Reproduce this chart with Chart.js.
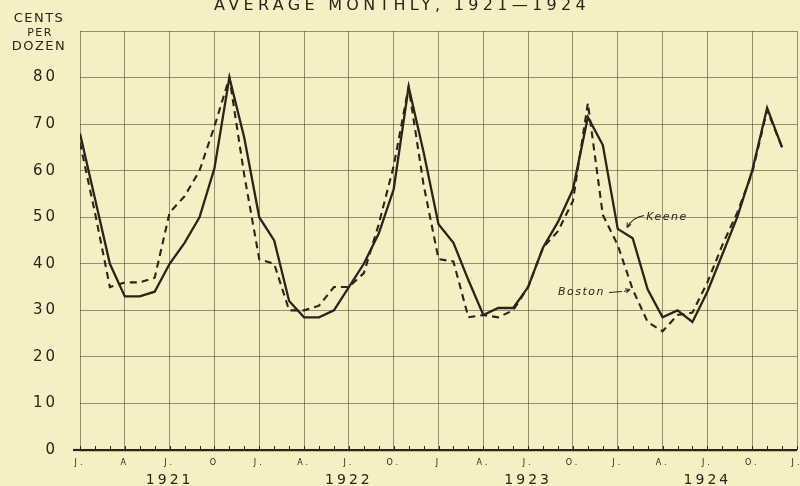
<!DOCTYPE html>
<html>
<head>
<meta charset="utf-8">
<script src="https://cdn.jsdelivr.net/npm/chart.js@4/dist/chart.umd.min.js"></script>
<style>
  html, body { margin: 0; padding: 0; background: #f7efc4; }
  #wrap { width: 800px; height: 486px; }
</style>
</head>
<body>
<div id="wrap"><canvas id="eggChart" width="800" height="486"></canvas></div>
<script>
// monthly average egg prices, cents per dozen, Jan 1921 - Dec 1924
const keene = [
  68, 54, 40, 33, 33, 34, 40, 44.5, 50, 60.5, 80, 67,
  50, 45, 32, 28.5, 28.5, 30, 35, 40, 46.5, 56, 78, 64,
  48.5, 44.5, 36.5, 29, 30.5, 30.5, 35, 43.5, 49, 56, 71.5, 65.5,
  47.5, 45.5, 34.5, 28.5, 30, 27.5, 34, 42, 50, 60, 73.5, 65
];
const boston = [
  66, 51, 35, 36, 36, 37, 51, 54.5, 60, 69.5, 80, 59,
  41, 40, 30, 30, 31, 35, 35, 38, 48.5, 61, 78, 57,
  41, 40.5, 28.5, 29, 28.5, 30, 35, 43.5, 47, 53.5, 74.5, 50.5,
  44, 34.5, 27.5, 25.5, 29, 29.5, 36, 44, 51, 59.5, 73, 65
];
const monthTicks = ['J.', 'A', 'J.', 'O', 'J.', 'A.', 'J.', 'O.', 'J', 'A.', 'J.', 'O.', 'J.', 'A.', 'J.', 'O.', 'J.'];
const years = ['1921', '1922', '1923', '1924'];

const ink = '#2a2419';
const gridInk = 'rgba(85, 75, 55, 0.6)';
const paper = '#f7efc4';
const face = '"DejaVu Sans", sans-serif';

function toPoints(values) {
  return values.map((v, i) => ({ x: i, y: v }));
}

function arrowHead(ctx, x, y, angle, size) {
  ctx.beginPath();
  ctx.moveTo(x, y);
  ctx.lineTo(x - size * Math.cos(angle - 0.45), y - size * Math.sin(angle - 0.45));
  ctx.moveTo(x, y);
  ctx.lineTo(x - size * Math.cos(angle + 0.45), y - size * Math.sin(angle + 0.45));
  ctx.stroke();
}

// background, letter spacing, month ticks, title and labels
const decor = {
  id: 'decor',
  beforeDraw(chart) {
    const ctx = chart.ctx;
    ctx.save();
    ctx.fillStyle = paper;
    ctx.fillRect(0, 0, chart.width, chart.height);
    ctx.restore();
    ctx.letterSpacing = '3px';
  },
  afterDatasetsDraw(chart) {
    const ctx = chart.ctx;
    const xs = chart.scales.x;
    const ys = chart.scales.y;
    const base = ys.getPixelForValue(0);
    ctx.save();
    ctx.strokeStyle = ink;
    ctx.lineWidth = 1;
    for (let m = 0; m <= 48; m++) {
      const px = Math.round(xs.getPixelForValue(m)) + 0.5;
      ctx.beginPath();
      ctx.moveTo(px, base);
      ctx.lineTo(px, base - 4);
      ctx.stroke();
    }
    // baseline runs a little past the left edge
    ctx.lineWidth = 2.2;
    ctx.beginPath();
    ctx.moveTo(xs.left - 7, base);
    ctx.lineTo(xs.left, base);
    ctx.stroke();
    ctx.restore();
  },
  afterDraw(chart) {
    const ctx = chart.ctx;
    const xs = chart.scales.x;
    const ys = chart.scales.y;
    ctx.save();
    ctx.fillStyle = ink;
    ctx.textBaseline = 'alphabetic';
    ctx.textAlign = 'center';

    ctx.letterSpacing = '4.3px';
    ctx.font = '16px ' + face;
    ctx.fillText('AVERAGE MONTHLY, 1921\u20141924', 402, 10);

    ctx.letterSpacing = '1.5px';
    ctx.font = '13px ' + face;
    ctx.fillText('CENTS', 39, 22);
    ctx.font = '11px ' + face;
    ctx.fillText('PER', 40, 36);
    ctx.font = '13px ' + face;
    ctx.fillText('DOZEN', 39, 50);

    // series labels
    ctx.textAlign = 'left';
    ctx.letterSpacing = '1.5px';
    ctx.font = 'italic 11px ' + face;
    const kx = xs.getPixelForValue(37.9);
    const ky = ys.getPixelForValue(49.3);
    ctx.fillText('Keene', kx, ky);
    const bx = xs.getPixelForValue(32);
    const by = ys.getPixelForValue(33.2);
    ctx.fillText('Boston', bx, by);

    ctx.strokeStyle = ink;
    ctx.lineWidth = 1.1;
    // Keene arrow
    ctx.beginPath();
    ctx.moveTo(kx - 2, ky - 5);
    ctx.quadraticCurveTo(kx - 14, ky - 3, kx - 19, ky + 7);
    ctx.stroke();
    arrowHead(ctx, kx - 19, ky + 7, Math.atan2(10, -5), 5);
    // Boston arrow
    ctx.beginPath();
    ctx.moveTo(bx + 51, by - 3);
    ctx.lineTo(bx + 64, by - 4);
    ctx.moveTo(bx + 66, by - 4);
    ctx.lineTo(bx + 72, by - 6);
    ctx.stroke();
    arrowHead(ctx, bx + 72, by - 6, Math.atan2(-2, 6), 5);
    ctx.restore();
  }
};

const ctx = document.getElementById('eggChart').getContext('2d');

new Chart(ctx, {
  type: 'line',
  data: {
    datasets: [
      {
        label: 'Keene',
        data: toPoints(keene),
        borderColor: ink,
        borderWidth: 2.3,
        pointRadius: 0,
        tension: 0,
        fill: false
      },
      {
        label: 'Boston',
        data: toPoints(boston),
        borderColor: ink,
        borderWidth: 2.1,
        borderDash: [7, 5],
        pointRadius: 0,
        tension: 0,
        fill: false
      }
    ]
  },
  options: {
    responsive: false,
    animation: false,
    layout: { padding: { top: 29, right: 3, left: 0, bottom: 0 } },
    plugins: {
      legend: { display: false },
      tooltip: { enabled: false },
      title: { display: false }
    },
    scales: {
      x: {
        type: 'linear',
        position: 'bottom',
        min: 0,
        max: 48,
        afterBuildTicks: s => { s.ticks = monthTicks.map((l, i) => ({ value: i * 3 })); },
        ticks: {
          autoSkip: false,
          maxRotation: 0,
          padding: 8,
          color: ink,
          font: { family: face, size: 8 },
          callback: (v, i) => monthTicks[i]
        },
        grid: { color: gridInk, lineWidth: 1, drawTicks: false },
        border: { display: false },
        afterFit: s => { s.height = 18; s.paddingLeft = 0; s.paddingRight = 0; }
      },
      years: {
        type: 'linear',
        position: 'bottom',
        weight: 1,
        min: 0,
        max: 48,
        afterBuildTicks: s => { s.ticks = years.map((y, i) => ({ value: 6 + i * 12 })); },
        ticks: {
          autoSkip: false,
          maxRotation: 0,
          padding: 4,
          color: ink,
          font: { family: face, size: 14 },
          callback: (v, i) => years[i]
        },
        grid: { display: false, drawTicks: false },
        border: { display: false },
        afterFit: s => { s.height = 18; s.paddingLeft = 0; s.paddingRight = 0; }
      },
      y: {
        min: 0,
        max: 90,
        ticks: {
          stepSize: 10,
          padding: 22,
          color: ink,
          font: { family: face, size: 15 },
          callback: v => (v === 90 ? '' : v)
        },
        grid: {
          color: c => (c.tick && c.tick.value === 0 ? ink : gridInk),
          lineWidth: c => (c.tick && c.tick.value === 0 ? 2.2 : 1),
          drawTicks: false
        },
        border: { display: false },
        afterFit: s => { s.width = 80; }
      }
    }
  },
  plugins: [decor]
});
</script>
</body>
</html>
